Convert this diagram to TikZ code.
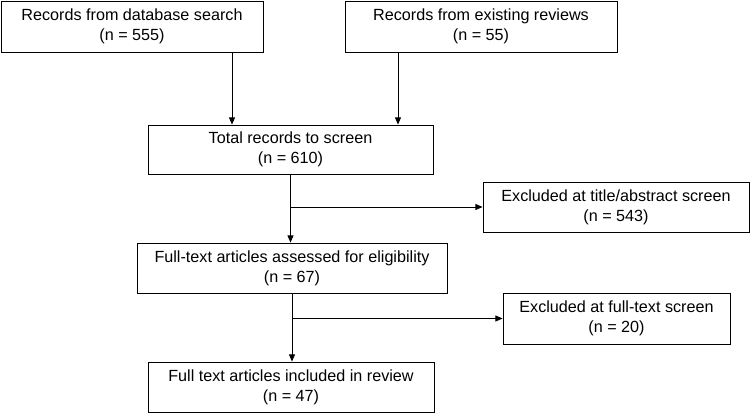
\documentclass[tikz,border=0pt]{standalone}
\usepackage{fontspec}
\usepackage{tikz}
\usetikzlibrary{arrows.meta}
\setmainfont{Liberation Sans}

\tikzset{
  flowbox/.style={draw, rectangle, line width=0.6pt, inner sep=0pt, align=center,
    font=\fontsize{11.5}{14.2}\selectfont},
  flowline/.style={line width=0.6pt, -{Triangle[length=1.8mm, width=1.5mm]}}
}

\begin{document}
\begin{tikzpicture}
  \useasboundingbox (0,0) rectangle (18.75,10.4);

  % Identification
  \node[flowbox, minimum width=6.55cm, minimum height=1.275cm] (db) at (3.3,9.7375)
    {Records from database search\\(n = 555)};
  \node[flowbox, minimum width=6.8cm, minimum height=1.275cm] (rev) at (12.025,9.7375)
    {Records from existing reviews\\(n = 55)};

  % Screening
  \node[flowbox, minimum width=7.125cm, minimum height=1.225cm] (total) at (7.2625,6.6625)
    {Total records to screen\\(n = 610)};
  \node[flowbox, minimum width=6.65cm, minimum height=1.25cm] (excl1) at (15.4,5.225)
    {Excluded at title/abstract screen\\(n = 543)};

  % Eligibility
  \node[flowbox, minimum width=7.75cm, minimum height=1.25cm] (full) at (7.3,3.7)
    {Full-text articles assessed for eligibility\\(n = 67)};
  \node[flowbox, minimum width=5.675cm, minimum height=1.275cm] (excl2) at (15.4125,2.4375)
    {Excluded at full-text screen\\(n = 20)};

  % Included
  \node[flowbox, minimum width=7.15cm, minimum height=1.25cm] (final) at (7.275,0.725)
    {Full text articles included in review\\(n = 47)};

  \draw[flowline] ([xshift=2.5cm]db.south) -- ([xshift=2.5cm]db.south |- total.north);
  \draw[flowline] ([xshift=-2.075cm]rev.south) -- ([xshift=-2.075cm]rev.south |- total.north);

  \draw[flowline] (total.south) -- (total.south |- full.north);
  \draw[flowline] (total.south |- excl1.west) -- (excl1.west);

  \draw[flowline] (full.south) -- (full.south |- final.north);
  \draw[flowline] (full.south |- excl2.west) -- (excl2.west);
\end{tikzpicture}
\end{document}
